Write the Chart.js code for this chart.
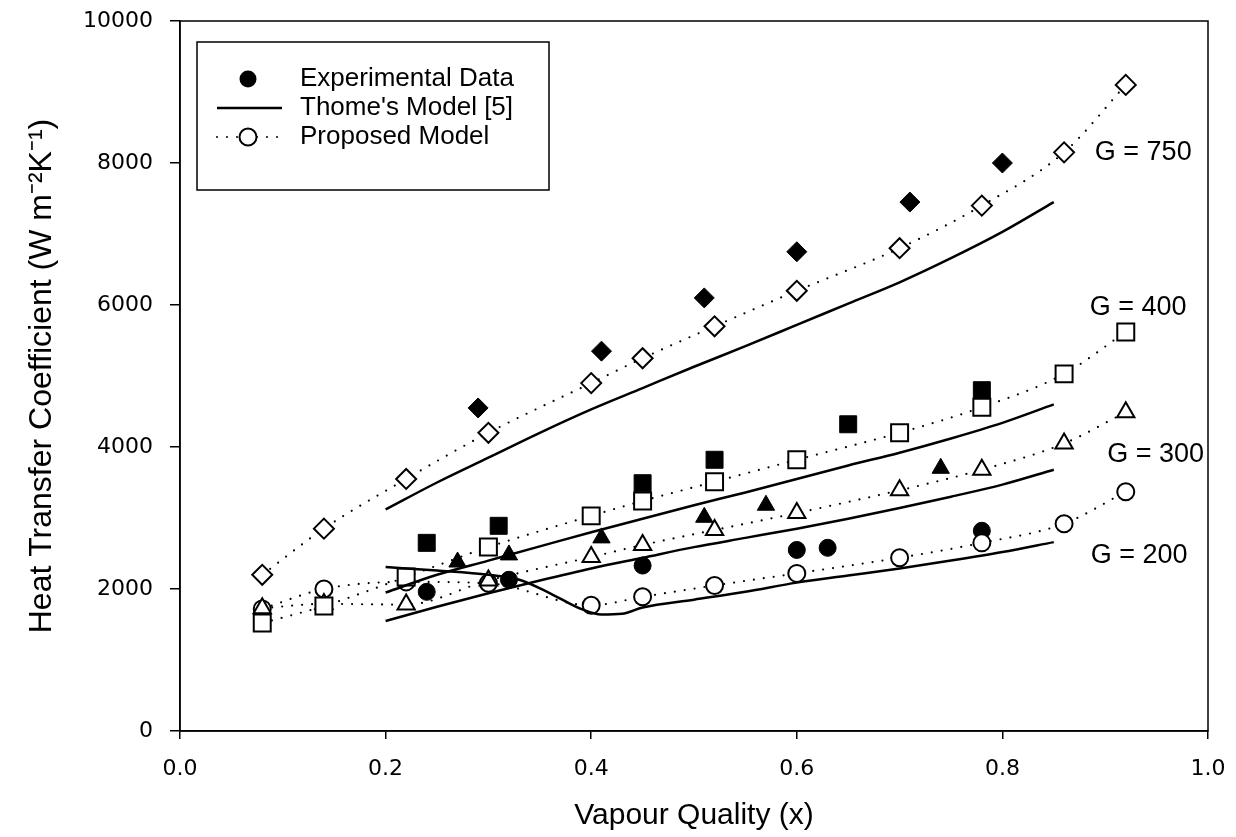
<!DOCTYPE html>
<html>
<head>
<meta charset="utf-8">
<script src="https://cdn.jsdelivr.net/npm/chart.js@4.4.1/dist/chart.umd.min.js"></script>
<style>
  html, body { margin: 0; padding: 0; background: #fff; }
  #wrap { width: 1236px; height: 837px; }
</style>
</head>
<body>
<div id="wrap"><canvas id="htcChart"></canvas></div>
<script>
// axis ticks
const xTicks = [0.0, 0.2, 0.4, 0.6, 0.8, 1.0];
const yTicks = [0, 2000, 4000, 6000, 8000, 10000];

// mass flux groups
const massFlux = ['G = 750', 'G = 400', 'G = 300', 'G = 200'];

// experimental data (filled markers)
const exp750X = [0.29, 0.41, 0.51, 0.60, 0.71, 0.80];
const exp750Y = [4550, 5350, 6100, 6750, 7450, 8000];
const exp400X = [0.24, 0.31, 0.45, 0.52, 0.65, 0.78];
const exp400Y = [2650, 2890, 3490, 3820, 4320, 4800];
const exp300X = [0.27, 0.32, 0.41, 0.51, 0.57, 0.74];
const exp300Y = [2380, 2480, 2720, 3010, 3180, 3700];
const exp200X = [0.24, 0.32, 0.45, 0.60, 0.63, 0.78];
const exp200Y = [1960, 2130, 2330, 2550, 2580, 2820];

// Thome's model (solid lines)
const thomeX = [0.20, 0.25, 0.30, 0.35, 0.40, 0.45, 0.50, 0.55, 0.60, 0.65, 0.70, 0.75, 0.80, 0.85];
const thome750Y = [3120, 3500, 3850, 4200, 4530, 4830, 5130, 5420, 5720, 6020, 6320, 6660, 7030, 7450];
const thome400Y = [1950, 2200, 2400, 2600, 2800, 2990, 3180, 3360, 3550, 3740, 3920, 4120, 4340, 4600];
const thome300Y = [1550, 1750, 1940, 2120, 2290, 2440, 2590, 2720, 2850, 2990, 3140, 3300, 3470, 3680];
const thome200X = [0.20, 0.25, 0.30, 0.33, 0.36, 0.39, 0.41, 0.43, 0.45, 0.50, 0.55, 0.60, 0.65, 0.70, 0.75, 0.80, 0.85];
const thome200Y = [2310, 2260, 2200, 2130, 1940, 1720, 1640, 1650, 1740, 1850, 1960, 2090, 2190, 2290, 2400, 2520, 2660];

// proposed model (dotted lines, open markers)
const propX = [0.08, 0.14, 0.22, 0.30, 0.40, 0.45, 0.52, 0.60, 0.70, 0.78, 0.86, 0.92];
const prop750Y = [2200, 2850, 3550, 4200, 4900, 5250, 5700, 6200, 6800, 7400, 8150, 9100];
const prop400Y = [1520, 1760, 2170, 2590, 3030, 3240, 3510, 3820, 4200, 4560, 5030, 5620];
const prop300Y = [1730, 1790, 1780, 2120, 2450, 2620, 2830, 3070, 3390, 3680, 4050, 4490];
const prop200Y = [1720, 2000, 2100, 2080, 1770, 1890, 2050, 2220, 2440, 2650, 2920, 3370];

const pts = (xs, ys) => xs.map((x, i) => ({ x: x, y: ys[i] }));

const FONT = '"Liberation Sans", Arial, sans-serif';

function expSet(xs, ys, style, r) {
  return {
    label: 'Experimental Data',
    data: pts(xs, ys),
    showLine: false,
    pointStyle: style,
    pointRadius: r,
    pointBackgroundColor: '#000',
    pointBorderColor: '#000',
    pointBorderWidth: 1
  };
}

function thomeSet(xs, ys) {
  return {
    label: "Thome's Model [5]",
    data: pts(xs, ys),
    showLine: true,
    borderColor: '#000',
    borderWidth: 2.5,
    pointRadius: 0,
    cubicInterpolationMode: 'monotone'
  };
}

function propSet(ys, style, r) {
  return {
    label: 'Proposed Model',
    data: pts(propX, ys),
    showLine: true,
    borderColor: '#000',
    borderWidth: 2.2,
    borderDash: [0, 10],
    borderCapStyle: 'round',
    cubicInterpolationMode: 'monotone',
    pointStyle: style,
    pointRadius: r,
    pointBackgroundColor: '#fff',
    pointBorderColor: '#000',
    pointBorderWidth: 2
  };
}

// frame, G labels and legend box
const overlay = {
  id: 'overlay',
  afterDraw(chart, args, opts) {
    const { ctx, chartArea: a, scales: { x, y } } = chart;
    ctx.save();
    ctx.strokeStyle = '#000';
    ctx.lineWidth = 1.5;
    ctx.strokeRect(a.left, a.top, a.right - a.left, a.bottom - a.top);

    ctx.fillStyle = '#000';
    ctx.font = '27px ' + FONT;
    ctx.textAlign = 'center';
    ctx.textBaseline = 'middle';
    massFlux.forEach((t, i) => {
      const p = opts.labelAt[i];
      ctx.fillText(t, x.getPixelForValue(p[0]), y.getPixelForValue(p[1]));
    });

    // legend
    const lx = a.left + 17, ly = a.top + 21;
    ctx.lineWidth = 1.5;
    ctx.strokeRect(lx, ly, 352, 148);
    const rowY = [ly + 37, ly + 66, ly + 95];
    const mx = lx + 51;
    ctx.textAlign = 'left';
    ctx.font = '26px ' + FONT;

    ctx.beginPath();
    ctx.arc(mx, rowY[0], 8.5, 0, Math.PI * 2);
    ctx.fill();
    ctx.fillText('Experimental Data', lx + 103, rowY[0]);

    ctx.lineWidth = 2.5;
    ctx.beginPath();
    ctx.moveTo(lx + 20, rowY[1]);
    ctx.lineTo(lx + 85, rowY[1]);
    ctx.stroke();
    ctx.fillText("Thome's Model [5]", lx + 103, rowY[1]);

    ctx.lineWidth = 2;
    ctx.setLineDash([0, 10]);
    ctx.lineCap = 'round';
    ctx.beginPath();
    ctx.moveTo(lx + 20, rowY[2]);
    ctx.lineTo(lx + 88, rowY[2]);
    ctx.stroke();
    ctx.setLineDash([]);
    ctx.beginPath();
    ctx.arc(mx, rowY[2], 8.5, 0, Math.PI * 2);
    ctx.fillStyle = '#fff';
    ctx.fill();
    ctx.stroke();
    ctx.fillStyle = '#000';
    ctx.fillText('Proposed Model', lx + 103, rowY[2]);
    ctx.restore();
  }
};

const ctx = document.getElementById('htcChart').getContext('2d');

new Chart(ctx, {
  type: 'scatter',
  data: {
    datasets: [
      thomeSet(thomeX, thome750Y),
      thomeSet(thomeX, thome400Y),
      thomeSet(thomeX, thome300Y),
      thomeSet(thome200X, thome200Y),
      propSet(prop750Y, 'rectRot', 10),
      propSet(prop400Y, 'rect', 12),
      propSet(prop300Y, 'triangle', 10),
      propSet(prop200Y, 'circle', 8.5),
      expSet(exp750X, exp750Y, 'rectRot', 10),
      expSet(exp400X, exp400Y, 'rect', 12),
      expSet(exp300X, exp300Y, 'triangle', 10),
      expSet(exp200X, exp200Y, 'circle', 8.5)
    ]
  },
  options: {
    responsive: true,
    maintainAspectRatio: false,
    animation: false,
    layout: { padding: { top: 21, right: 28, left: 0, bottom: 0 } },
    plugins: {
      legend: { display: false },
      tooltip: { enabled: false },
      overlay: {
        labelAt: [[0.937, 8150], [0.932, 5970], [0.949, 3890], [0.933, 2470]]
      }
    },
    scales: {
      x: {
        type: 'linear',
        min: xTicks[0],
        max: xTicks[xTicks.length - 1],
        afterBuildTicks: (s) => { s.ticks = xTicks.map(v => ({ value: v })); },
        afterFit: (s) => { s.height = 106; s.paddingLeft = 0; s.paddingRight = 0; },
        border: { color: '#000', width: 1.5 },
        grid: { drawOnChartArea: false, drawTicks: true, tickLength: 8, color: '#000', lineWidth: 1.5 },
        ticks: {
          color: '#000',
          padding: 17,
          font: { family: '"DejaVu Sans", sans-serif', size: 22 },
          callback: (v) => Number(v).toFixed(1)
        },
        title: {
          display: true,
          text: 'Vapour Quality (x)',
          color: '#000',
          font: { family: FONT, size: 30 },
          padding: { top: 0, bottom: 3 }
        }
      },
      y: {
        type: 'linear',
        min: yTicks[0],
        max: yTicks[yTicks.length - 1],
        afterBuildTicks: (s) => { s.ticks = yTicks.map(v => ({ value: v })); },
        afterFit: (s) => { s.width = 180; s.paddingTop = 0; s.paddingBottom = 0; },
        border: { color: '#000', width: 1.5 },
        grid: { drawOnChartArea: false, drawTicks: true, tickLength: 10, color: '#000', lineWidth: 1.5 },
        ticks: {
          color: '#000',
          padding: 17,
          font: { family: '"DejaVu Sans", sans-serif', size: 22 },
          callback: (v) => String(v)
        },
        title: {
          display: true,
          text: 'Heat Transfer Coefficient (W m\u207B\u00B2K\u207B\u00B9)',
          color: '#000',
          font: { family: FONT, size: 32 },
          padding: { top: 23, bottom: 0 }
        }
      }
    }
  },
  plugins: [overlay]
});
</script>
</body>
</html>
